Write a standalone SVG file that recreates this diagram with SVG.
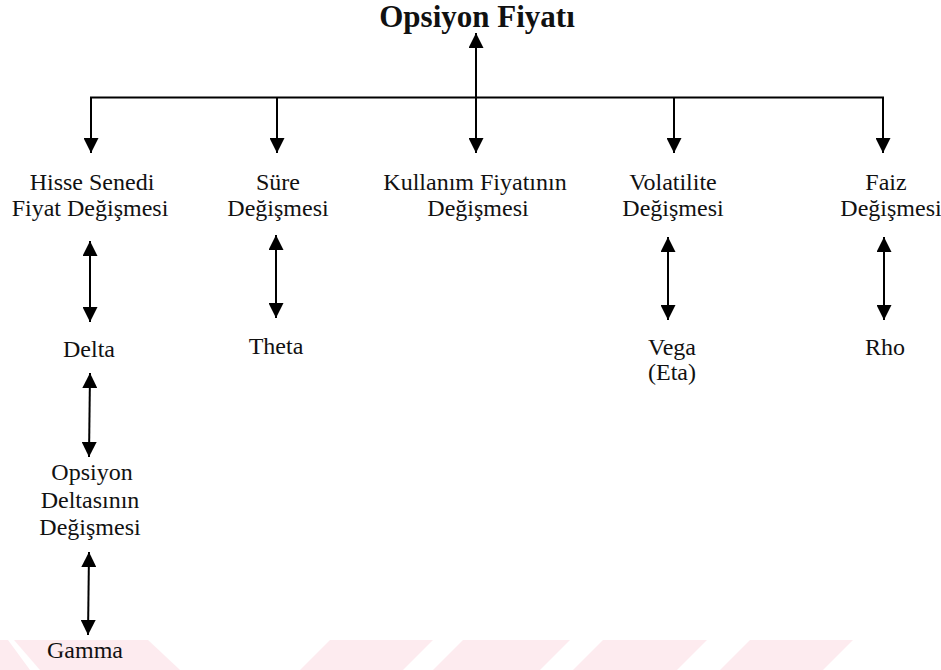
<svg xmlns="http://www.w3.org/2000/svg" width="941" height="670" viewBox="0 0 941 670">
<style>
text{font-family:"Liberation Serif","Times New Roman",serif;font-size:24px;fill:#111;text-anchor:middle}
.title{font-size:31px;font-weight:bold}
.c{stroke:#000;stroke-width:2;fill:none}
.wm{fill:#fdebef}
</style>
<defs>
<marker id="ah" viewBox="0 0 15 15" refX="15" refY="7.5" markerWidth="15" markerHeight="15" markerUnits="userSpaceOnUse" orient="auto-start-reverse">
<path d="M0,0 L15,7.5 L0,15 z" fill="#000"/>
</marker>
</defs>
<rect width="941" height="670" fill="#fff"/>
<g id="watermark">
<polygon class="wm" points="0,640 8,640 30,670 0,670"/>
<polygon class="wm" points="14,640 148,640 180,670 40,670"/>
<polygon class="wm" points="330,640 433,640 403,670 300,670"/>
<polygon class="wm" points="463,640 570,640 540,670 433,670"/>
<polygon class="wm" points="603,640 707,640 677,670 573,670"/>
<polygon class="wm" points="750,640 853,640 823,670 720,670"/>
</g>
<g id="connectors">
<line class="c" x1="476" y1="33" x2="476" y2="153" marker-start="url(#ah)" marker-end="url(#ah)"/>
<line class="c" x1="90" y1="97.5" x2="884" y2="97.5"/>
<line class="c" x1="91" y1="97" x2="91" y2="153" marker-end="url(#ah)"/>
<line class="c" x1="277" y1="97" x2="277" y2="153" marker-end="url(#ah)"/>
<line class="c" x1="674" y1="97" x2="674" y2="153" marker-end="url(#ah)"/>
<line class="c" x1="883" y1="97" x2="883" y2="153" marker-end="url(#ah)"/>
<line class="c" x1="90" y1="241" x2="90" y2="322" marker-start="url(#ah)" marker-end="url(#ah)"/>
<line class="c" x1="276" y1="235" x2="276" y2="318" marker-start="url(#ah)" marker-end="url(#ah)"/>
<line class="c" x1="668" y1="237" x2="668" y2="320" marker-start="url(#ah)" marker-end="url(#ah)"/>
<line class="c" x1="884" y1="237" x2="884" y2="320" marker-start="url(#ah)" marker-end="url(#ah)"/>
<line class="c" x1="90" y1="373" x2="89" y2="457" marker-start="url(#ah)" marker-end="url(#ah)"/>
<line class="c" x1="89" y1="552" x2="88" y2="635" marker-start="url(#ah)" marker-end="url(#ah)"/>
</g>
<g id="opsiyon-fiyati"><text class="title" x="477" y="27">Opsiyon Fiyatı</text></g>
<g id="hisse"><text x="92" y="190">Hisse Senedi</text><text x="90" y="216">Fiyat Değişmesi</text></g>
<g id="sure"><text x="278" y="190">Süre</text><text x="278" y="216">Değişmesi</text></g>
<g id="kullanim"><text x="475" y="190">Kullanım Fiyatının</text><text x="478" y="216">Değişmesi</text></g>
<g id="volatilite"><text x="673" y="190">Volatilite</text><text x="673" y="216">Değişmesi</text></g>
<g id="faiz"><text x="886" y="190">Faiz</text><text x="891" y="216">Değişmesi</text></g>
<g id="delta"><text x="89" y="357">Delta</text></g>
<g id="theta"><text x="276" y="354">Theta</text></g>
<g id="vega"><text x="672" y="355">Vega</text><text x="672" y="380">(Eta)</text></g>
<g id="rho"><text x="885" y="355">Rho</text></g>
<g id="opsiyon-deltasi"><text x="92" y="480">Opsiyon</text><text x="90" y="508">Deltasının</text><text x="90" y="535">Değişmesi</text></g>
<g id="gamma"><text x="85" y="658">Gamma</text></g>
</svg>
